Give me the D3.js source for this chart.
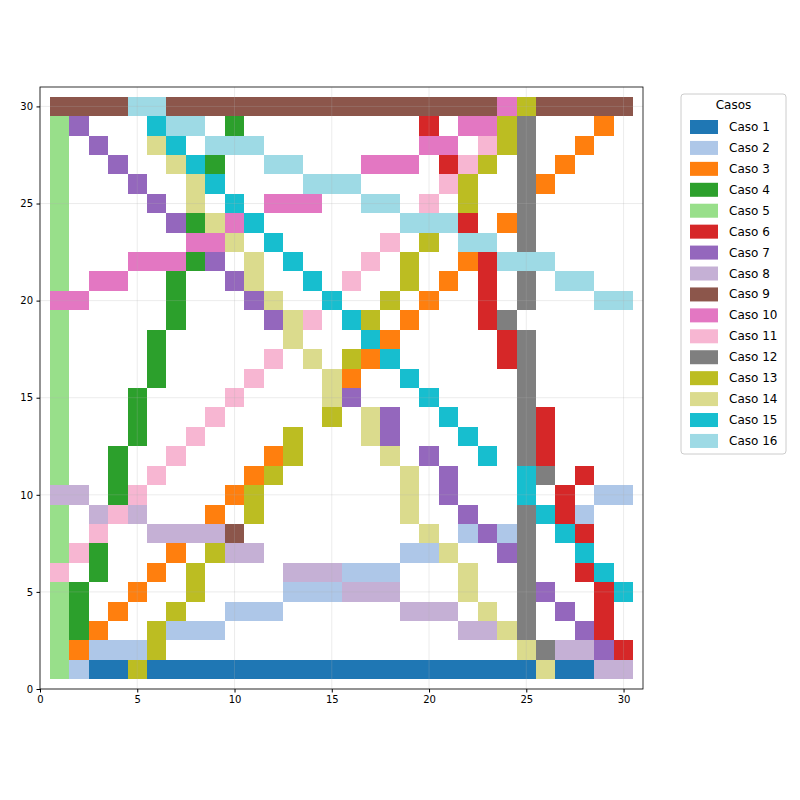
<!DOCTYPE html>
<html><head><meta charset="utf-8">
<script src="https://cdn.jsdelivr.net/npm/d3@7"></script>
<style>body{margin:0;background:#fff}</style></head>
<body><svg id="c" width="800" height="800"></svg>
<script>
const cases = ["Caso 1","Caso 2","Caso 3","Caso 4","Caso 5","Caso 6","Caso 7","Caso 8","Caso 9","Caso 10","Caso 11","Caso 12","Caso 13","Caso 14","Caso 15","Caso 16"];
const colors = ["#1f77b4","#aec7e8","#ff7f0e","#2ca02c","#98df8a","#d62728","#9467bd","#c5b0d5","#8c564b","#e377c2","#f7b6d2","#7f7f7f","#bcbd22","#dbdb8d","#17becf","#9edae5"];
const xTicks = [0,5,10,15,20,25,30];
const yTicks = [0,5,10,15,20,25,30];
// rows from y=30 (top) down to y=1; columns x=1..30; '.'=empty, 1-9, a=10..g=16
const gridRows = [
"99996g9999999999999999999a9d99999".slice(0,0)+"9999gg99999999999999999ad99999",
"5.7...fgg.4..........6.aadc...3.".slice(0,0)+"57...fgg.4.........6.aadc...3.",
"5.7..ef.gg g........a a.bdc..3..".slice(0,0)+"5.7..ef.ggg........aa.bdc..3..",
"5..7..ef4..gg...aaa.6bd.c.3...",
"5...7..ef....ggg....bd..c3....",
"5....7.e.f.aaa..gg.b.d..c.....",
"5.....74eaf.......ggg6.3c.....",
"5......aae.f.....b.d.gg.c.....",
"5...aaa47.e.f...b.d..36gggb...".slice(0,0)+"5...aaa47.e.f...b.d..36ggg....",
"5.aa..4..7e..f.b..d.3.6.c.gg..",
"aa....4...7e..f..d.3..6.c...gg",
"5.....4....7ebf.fd.3...6c.....".slice(0,0)+"5.....4....7eb.fd.3...6c.....",
"5....4......e...f3.....6c.....",
"5....4.....b.e.d3f.....6c.....",
"5....4....b...e3..f.....c.....",
"5...4....b....e7...f....c.....",
"5...4...b.....d.e7..f...c6....",
"5...4..b......d...e7..f..c6....".slice(0,0)+"5...4..b....d...e7...f..c6....",
"5..4..b....3d....e.7..f.c6....",
"5..4.b....3d......e.7...fc.6...",
"88.4b....3d.......e.7...f.6.22",
"5.8b8...3.d.......e..7..cf62..",
"5.b..88889.........e.272c.f6..",
"5b4...3.d88.......22e..7c..f..",
"b.4..3.d....888222...e..c..6f.",
"54..3..d....22288 8...e..c7..6f".slice(0,0)+"54..3..d....222888...e..c7..6f",
"54.3..d..222......888.e.c.7.6.",
"543..d222..................88ec..7 6.".slice(0,0)+"543..d222............88ec..76.",
"53222d..................ec8887 6".slice(0,0)+"53222d..................ec8876",
"521d1111111111111111111e111188".slice(0,0)+"5211d11111111111111111111e1188"
];
</script>
<script>
const map = {"1":1,"2":2,"3":3,"4":4,"5":5,"6":6,"7":7,"8":8,"9":9,"a":10,"b":11,"c":12,"d":13,"e":14,"f":15,"g":16};
const cells = [];
gridRows.forEach((row, i) => {
  const y = 30 - i;
  for (let j = 0; j < row.length && j < 30; j++) {
    const v = map[row[j]];
    if (v) cells.push({x: j + 1, y, v});
  }
});
const svg = d3.select("#c");
const L = 40, R = 643, T = 87, B = 689;
const x = d3.scaleLinear().domain([0,31]).range([L,R]);
const y = d3.scaleLinear().domain([0,31]).range([B,T]);
svg.append("g").selectAll("rect").data(cells).join("rect")
  .attr("x", d => x(d.x - 0.5)).attr("y", d => y(d.y + 0.5))
  .attr("width", x(1) - x(0)).attr("height", y(0) - y(1))
  .attr("fill", d => colors[d.v - 1]).attr("shape-rendering","crispEdges");
const g = svg.append("g");
xTicks.forEach(t => g.append("line").attr("x1", x(t)).attr("x2", x(t)).attr("y1", T).attr("y2", B).attr("stroke", "#b0b0b0").attr("stroke-opacity", 0.3).attr("stroke-width", 0.8));
yTicks.forEach(t => g.append("line").attr("y1", y(t)).attr("y2", y(t)).attr("x1", L).attr("x2", R).attr("stroke", "#b0b0b0").attr("stroke-opacity", 0.3).attr("stroke-width", 0.8));
const fs = "DejaVu Sans, sans-serif";
svg.append("g").attr("transform", `translate(0,${B})`).call(d3.axisBottom(x).tickValues(xTicks).tickSize(3.5).tickPadding(3.5))
  .call(a => { a.select(".domain").remove(); a.selectAll("text").attr("font-size", 10).attr("font-family", fs).attr("fill","#000"); });
svg.append("g").attr("transform", `translate(${L},0)`).call(d3.axisLeft(y).tickValues(yTicks).tickSize(3.5).tickPadding(3.5))
  .call(a => { a.select(".domain").remove(); a.selectAll("text").attr("font-size", 10).attr("font-family", fs).attr("fill","#000"); });
svg.append("rect").attr("x", L).attr("y", T).attr("width", R - L).attr("height", B - T).attr("fill", "none").attr("stroke", "#000").attr("stroke-width", 0.8);
// legend
const lg = svg.append("g");
lg.append("rect").attr("x", 681).attr("y", 94).attr("width", 105).attr("height", 360).attr("rx", 3).attr("fill", "#fff").attr("stroke", "#ccc");
lg.append("text").attr("x", 733.5).attr("y", 109).attr("text-anchor", "middle").attr("font-size", 12).attr("font-family", fs).text("Casos");
cases.forEach((c, i) => {
  const yy = 120 + i * 20.93;
  lg.append("rect").attr("x", 690).attr("y", yy).attr("width", 28).attr("height", 14).attr("fill", colors[i]);
  lg.append("text").attr("x", 729).attr("y", yy + 11).attr("font-size", 12).attr("font-family", fs).text(c);
});
</script></body></html>
